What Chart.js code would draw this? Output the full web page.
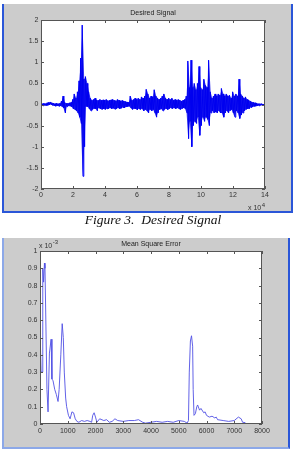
<!DOCTYPE html>
<html>
<head>
<meta charset="utf-8">
<script src="https://cdn.jsdelivr.net/npm/chart.js@4.4.1/dist/chart.umd.min.js"></script>
<style>
  body { margin: 0; width: 293px; height: 450px; background: #fff; position: relative; overflow: hidden; }
  #p1 { position: absolute; left: 2px; top: 4px; width: 287px; height: 207px; background: #cccccc;
        border-left: 2px solid #2a56d8; border-right: 2px solid #2a56d8; border-bottom: 2px solid #2a56d8; }
  #p2 { position: absolute; left: 2px; top: 238px; width: 284px; height: 209px; background: #cccccc;
        border-left: 2px solid #8ca8e8; border-right: 2px solid #2a56d8; border-bottom: 2px solid #8ca8e8; }
  canvas { position: absolute; left: 0; }
  #c1 { top: 0; }
  #c2 { top: 232px; }
  #cap { position: absolute; left: 0; width: 306px; top: 212px; text-align: center;
         font: italic 13.5px/15px "Liberation Serif", "Times New Roman", serif; color: #111; }
</style>
</head>
<body>
<div id="p1"></div>
<div id="p2"></div>
<canvas id="c1" width="293" height="215"></canvas>
<div id="cap">Figure 3.&nbsp; Desired Signal</div>
<canvas id="c2" width="293" height="218"></canvas>
<script>
// Desired signal: upper / lower envelope per 0.1 (x 10^4 samples)
const sigHi = [0.03,0.02,0.03,0.02,0.04,0.05,0.06,0.04,0.03,0.02,0.03,0.02,0.03,0.08,0.2,0.05,0.03,0.03,0.04,0.05,
  0.12,0.25,0.15,0.3,0.56,1.1,1.88,0.6,0.66,0.5,0.3,0.15,0.1,0.12,0.15,0.1,
  0.1,0.12,0.1,0.11,0.1,0.12,0.09,0.1,0.11,0.12,0.1,0.09,0.12,0.1,0.08,0.1,0.08,0.07,0.06,0.05,
  0.2,0.1,0.12,0.15,0.12,0.15,0.12,0.18,0.15,0.2,0.36,0.25,0.15,0.2,0.18,0.35,0.2,0.15,0.12,0.15,0.2,0.25,0.15,0.12,
  0.15,0.12,0.15,0.1,0.12,0.1,0.12,0.1,0.08,0.1,0.12,0.2,1.03,0.4,1.05,0.4,0.5,0.35,0.5,0.9,
  0.4,0.35,0.6,0.45,0.4,1.05,0.3,0.15,0.2,0.25,0.2,0.25,0.22,0.38,0.25,0.2,0.25,0.2,0.22,0.15,
  0.3,0.2,0.25,0.2,0.6,0.25,0.2,0.15,0.18,0.12,0.1,0.08,0.06,0.05,0.04,0.03,0.02,0.02,0.02,0.01,0.01];
const sigLo = [-0.02,-0.03,-0.02,-0.03,-0.02,-0.01,0.0,-0.02,-0.03,-0.04,-0.03,-0.04,-0.03,-0.05,-0.08,-0.2,-0.05,-0.03,-0.04,-0.05,
  -0.1,-0.12,-0.15,-0.2,-0.3,-0.45,-1.7,-1.0,-0.05,-0.05,-0.1,-0.15,-0.12,-0.1,-0.1,-0.15,
  -0.08,-0.1,-0.12,-0.1,-0.12,-0.1,-0.1,-0.08,-0.1,-0.09,-0.11,-0.1,-0.08,-0.1,-0.09,-0.07,-0.08,-0.06,-0.05,-0.04,
  -0.08,-0.12,-0.1,-0.1,-0.13,-0.1,-0.12,-0.1,-0.15,-0.12,-0.15,-0.2,-0.12,-0.15,-0.12,-0.2,-0.3,-0.2,-0.12,-0.1,-0.15,-0.12,-0.1,-0.12,
  -0.1,-0.08,-0.1,-0.08,-0.1,-0.08,-0.1,-0.12,-0.1,-0.08,-0.1,-0.2,-0.81,-0.4,-1.0,-0.5,-0.4,-0.45,-0.3,-0.73,
  -0.5,-0.3,-0.4,-0.3,-0.35,-0.5,-0.2,-0.15,-0.2,-0.18,-0.2,-0.15,-0.2,-0.2,-0.3,-0.2,-0.15,-0.2,-0.15,-0.12,
  -0.2,-0.3,-0.15,-0.2,-0.33,-0.25,-0.2,-0.15,-0.12,-0.1,-0.1,-0.07,-0.06,-0.05,-0.04,-0.03,-0.03,-0.02,-0.02,-0.02,-0.01];
const sigStep = 0.1;

// Mean square error (x 10^-3)
const mseX = [0,10,20,40,75,100,130,160,180,250,290,340,400,430,470,530,590,650,690,750,800,840,875,925,960,1025,1085,
  1150,1210,1270,1330,1400,1500,1600,1700,1800,1860,1900,1950,2000,2050,2150,2300,2400,2500,2600,2700,2800,3000,
  3200,3400,3550,3700,3800,4000,4200,4400,4600,4800,5000,5200,5300,5350,5380,5420,5460,5500,5520,5550,5600,5650,
  5680,5750,5800,5900,5950,6000,6100,6200,6300,6350,6400,6600,6800,7000,7150,7250,7300,7400];
const mseY = [0.62,0.2,0.46,0.3,0.3,0.9,0.82,0.93,0.9,0.2,0.07,0.41,0.49,0.26,0.25,0.2,0.17,0.13,0.2,0.4,0.58,0.5,0.3,0.15,
  0.1,0.05,0.03,0.07,0.065,0.03,0.015,0.01,0.02,0.015,0.02,0.015,0.01,0.05,0.065,0.04,0.01,0.03,0.02,0.025,0.01,0.015,
  0.03,0.02,0.015,0.02,0.02,0.025,0.01,0.005,0.01,0.015,0.01,0.015,0.01,0.02,0.015,0.005,0.02,0.3,0.48,0.51,0.45,0.2,
  0.05,0.06,0.1,0.11,0.08,0.09,0.065,0.07,0.05,0.04,0.045,0.035,0.04,0.025,0.02,0.015,0.02,0.04,0.03,0.01,0.008];

const topTicksX = [0,2,4,6,8,10,12,14];
const botTicksX = [0,1000,2000,3000,4000,5000,6000,7000,8000];

const font = { family: "Liberation Sans, Arial, sans-serif", size: 7 };

// envelopes + zigzag between them
const hiData = sigHi.map((h, i) => ({ x: i * sigStep, y: h }));
const loData = sigLo.map((l, i) => ({ x: i * sigStep, y: l }));
const sigData = [];
sigHi.forEach((h, i) => {
  sigData.push({ x: i * sigStep - sigStep / 4, y: h });
  sigData.push({ x: i * sigStep + sigStep / 4, y: sigLo[i] });
});
const mseData = mseX.map((x, i) => ({ x: x, y: mseY[i] }));

const matlabBox = {
  id: 'matlabBox',
  beforeDatasetsDraw(chart) {
    const a = chart.chartArea, ctx = chart.ctx;
    ctx.save();
    ctx.fillStyle = '#fff';
    ctx.fillRect(a.left, a.top, a.right - a.left, a.bottom - a.top);
    ctx.restore();
  },
  afterDatasetsDraw(chart, args, opts) {
    const a = chart.chartArea, ctx = chart.ctx;
    const sx = chart.scales.x, sy = chart.scales.y;
    ctx.save();
    ctx.strokeStyle = '#555';
    ctx.lineWidth = 1;
    ctx.strokeRect(a.left + 0.5, a.top + 0.5, a.right - a.left - 1, a.bottom - a.top - 1);
    ctx.beginPath();
    sx.ticks.forEach(t => {
      const p = Math.round(sx.getPixelForValue(t.value)) + 0.5;
      ctx.moveTo(p, a.bottom); ctx.lineTo(p, a.bottom - 3);
      ctx.moveTo(p, a.top); ctx.lineTo(p, a.top + 3);
    });
    sy.ticks.forEach(t => {
      const p = Math.round(sy.getPixelForValue(t.value)) + 0.5;
      ctx.moveTo(a.left, p); ctx.lineTo(a.left + 3, p);
      ctx.moveTo(a.right, p); ctx.lineTo(a.right - 3, p);
    });
    ctx.stroke();
    // exponent label
    ctx.fillStyle = '#333';
    ctx.textBaseline = 'alphabetic';
    ctx.font = '7px ' + font.family;
    ctx.fillText('x 10', opts.ex, opts.ey);
    const w = ctx.measureText('x 10').width;
    ctx.font = '6px ' + font.family;
    ctx.fillText(opts.exp, opts.ex + w + 0.5, opts.ey - 3.5);
    ctx.restore();
  }
};

function makeChart(id, datasets, xMin, xMax, xTicks, yMin, yMax, yStep, title, yW, padR, titlePad, xPad, expo) {
  return new Chart(document.getElementById(id), {
    type: 'line',
    data: { datasets: datasets },
    options: {
      responsive: false, animation: false, events: [],
      layout: { padding: { left: 0, right: padR, top: 0, bottom: 0 } },
      plugins: {
        legend: { display: false }, tooltip: { enabled: false },
        title: { display: true, text: title, fullSize: false, color: '#222',
                 font: { family: font.family, size: 7, weight: 'normal' }, padding: titlePad },
        matlabBox: expo
      },
      scales: {
        x: {
          type: 'linear', min: xMin, max: xMax,
          afterBuildTicks: s => { s.ticks = xTicks.map(v => ({ value: v })); },
          afterFit: s => { s.height = 26; },
          grid: { display: false, drawTicks: false }, border: { display: false },
          ticks: { font: font, color: '#333', padding: xPad, maxRotation: 0, callback: v => String(v) }
        },
        y: {
          min: yMin, max: yMax,
          afterFit: s => { s.width = yW; },
          grid: { display: false, drawTicks: false }, border: { display: false },
          ticks: { font: font, color: '#333', padding: 2.5, stepSize: yStep, autoSkip: false,
                   callback: v => String(+v.toFixed(2)) }
        }
      }
    },
    plugins: [matlabBox]
  });
}

const line = { pointRadius: 0, tension: 0 };
makeChart('c1', [
    Object.assign({ data: hiData, borderWidth: 0, borderColor: 'rgba(0,0,0,0)', backgroundColor: 'rgba(0,0,235,0.8)', fill: '+1' }, line),
    Object.assign({ data: loData, borderWidth: 0, borderColor: 'rgba(0,0,0,0)', fill: false }, line),
    Object.assign({ data: sigData, borderWidth: 1, borderColor: '#0000ff', fill: false }, line)
  ], 0, 14, topTicksX, -2, 2, 0.5, 'Desired Signal', 41, 28,
  { top: 9, bottom: 2.6 }, 2, { ex: 248, ey: 210, exp: '4' });
makeChart('c2', [
    Object.assign({ data: mseData, borderWidth: 0.9, borderColor: 'rgb(80,80,228)', fill: false }, line)
  ], 0, 8000, botTicksX, 0, 1, 0.1, 'Mean Square Error', 40, 31,
  { top: 7.6, bottom: 3 }, 3, { ex: 39, ey: 15.5, exp: '-3' });
</script>
</body>
</html>
